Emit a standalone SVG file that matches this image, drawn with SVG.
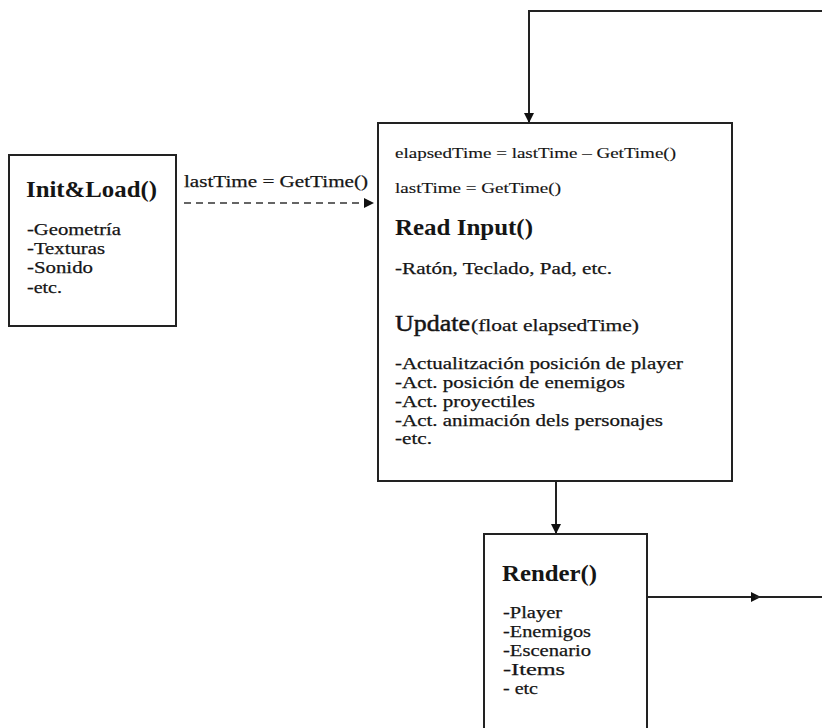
<svg xmlns="http://www.w3.org/2000/svg" width="822" height="728" viewBox="0 0 822 728">
  <style>
    .box { fill: #ffffff; stroke: #222222; stroke-width: 2; }
    .wire { fill: none; stroke: #222222; stroke-width: 2; }
    .dash { fill: none; stroke: #333333; stroke-width: 1.5; stroke-dasharray: 7 5; }
    text { font-family: "Liberation Serif", "Times New Roman", serif; fill: #151515; }
    .title { font-size: 24px; font-weight: bold; }
    .head { font-size: 24px; stroke: #151515; stroke-width: 0.5; }
    .item { font-size: 17px; stroke: #151515; stroke-width: 0.25; }
    .small { font-size: 15.5px; stroke: #151515; stroke-width: 0.15; }
  </style>
  <defs>
    <marker id="arrow" viewBox="0 0 10 10" refX="9" refY="5" markerWidth="10" markerHeight="10" markerUnits="userSpaceOnUse" orient="auto">
      <path d="M0,0 L10,5 L0,10 z" fill="#111111"/>
    </marker>
  </defs>

  <rect width="822" height="728" fill="#ffffff"/>

  <g id="connectors">
    <!-- loop back from the right edge into the main loop box -->
    <path class="wire" d="M822,11 H529 V122" marker-end="url(#arrow)"/>
    <!-- init to main loop -->
    <path class="dash" d="M184,203 H373" marker-end="url(#arrow)"/>
    <!-- main loop to render -->
    <path class="wire" d="M556,481 V533" marker-end="url(#arrow)"/>
    <!-- render out to the right -->
    <path class="wire" d="M647,597 H760" marker-end="url(#arrow)"/>
    <path class="wire" d="M755,597 H822"/>
  </g>

  <text x="184" y="187" class="item" textLength="184" lengthAdjust="spacingAndGlyphs">lastTime = GetTime()</text>

  <g id="init-load">
    <rect class="box" x="9" y="155" width="167" height="171"/>
    <text x="26" y="197" class="title" textLength="131" lengthAdjust="spacingAndGlyphs">Init&amp;Load()</text>
    <text x="27" y="235" class="item" textLength="94" lengthAdjust="spacingAndGlyphs">-Geometría</text>
    <text x="27" y="254" class="item" textLength="78" lengthAdjust="spacingAndGlyphs">-Texturas</text>
    <text x="27" y="273" class="item" textLength="66" lengthAdjust="spacingAndGlyphs">-Sonido</text>
    <text x="27" y="293" class="item" textLength="35" lengthAdjust="spacingAndGlyphs">-etc.</text>
  </g>

  <g id="main-loop">
    <rect class="box" x="378" y="123" width="354" height="358"/>
    <text x="395" y="158" class="small" textLength="281" lengthAdjust="spacingAndGlyphs">elapsedTime = lastTime – GetTime()</text>
    <text x="395" y="193" class="small" textLength="166" lengthAdjust="spacingAndGlyphs">lastTime = GetTime()</text>
    <text x="395" y="235" class="title" textLength="138" lengthAdjust="spacingAndGlyphs">Read Input()</text>
    <text x="395" y="274" class="item" textLength="217" lengthAdjust="spacingAndGlyphs">-Ratón, Teclado, Pad, etc.</text>
    <text x="395" y="331" class="head" textLength="75" lengthAdjust="spacingAndGlyphs">Update</text>
    <text x="471" y="331" class="item" textLength="168" lengthAdjust="spacingAndGlyphs">(float elapsedTime)</text>
    <text x="395" y="369" class="item" textLength="288" lengthAdjust="spacingAndGlyphs">-Actualitzación posición de player</text>
    <text x="395" y="388" class="item" textLength="230" lengthAdjust="spacingAndGlyphs">-Act. posición de enemigos</text>
    <text x="395" y="407" class="item" textLength="140" lengthAdjust="spacingAndGlyphs">-Act. proyectiles</text>
    <text x="395" y="425.5" class="item" textLength="268" lengthAdjust="spacingAndGlyphs">-Act. animación dels personajes</text>
    <text x="395" y="444" class="item" textLength="37" lengthAdjust="spacingAndGlyphs">-etc.</text>
  </g>

  <g id="render">
    <rect class="box" x="484" y="534" width="163" height="200"/>
    <text x="502" y="581" class="title" textLength="95" lengthAdjust="spacingAndGlyphs">Render()</text>
    <text x="503" y="618" class="item" textLength="59" lengthAdjust="spacingAndGlyphs">-Player</text>
    <text x="503" y="637" class="item" textLength="88" lengthAdjust="spacingAndGlyphs">-Enemigos</text>
    <text x="503" y="656" class="item" textLength="88" lengthAdjust="spacingAndGlyphs">-Escenario</text>
    <text x="503" y="675" class="item" textLength="62" lengthAdjust="spacingAndGlyphs">-Items</text>
    <text x="503" y="693.5" class="item" textLength="35" lengthAdjust="spacingAndGlyphs">- etc</text>
  </g>
</svg>
